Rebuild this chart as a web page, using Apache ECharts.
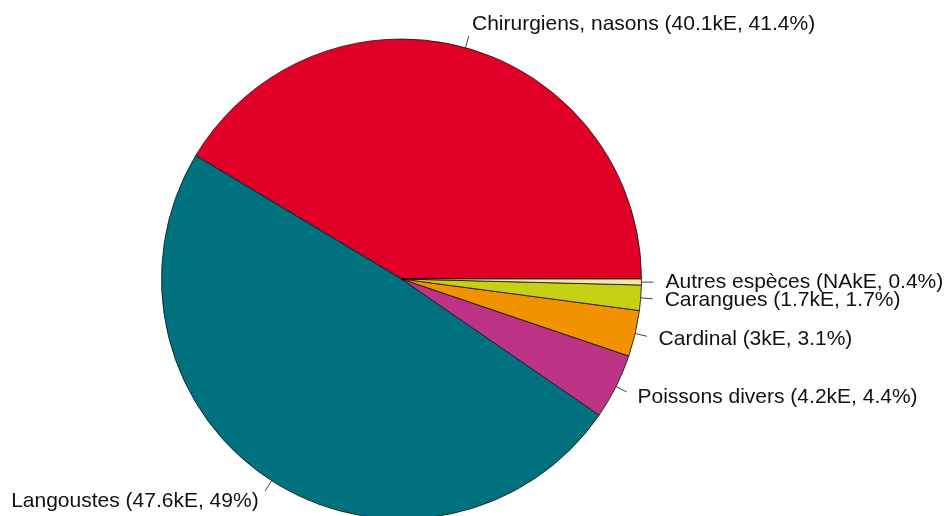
<!DOCTYPE html>
<html>
<head>
<meta charset="utf-8">
<script src="https://cdn.jsdelivr.net/npm/echarts@6/dist/echarts.min.js"></script>
<style>
  html, body { margin: 0; padding: 0; background: #fff; }
  #chart { width: 948px; height: 516px; }
</style>
</head>
<body>
<div id="chart"></div>
<script>
// données (ordre anti-horaire depuis 3h)
var categories = ['Chirurgiens, nasons', 'Langoustes', 'Poissons divers', 'Cardinal', 'Carangues', 'Autres espèces'];
var valeursKE = ['40.1', '47.6', '4.2', '3', '1.7', 'NA'];
var pourcents = [41.4, 49, 4.4, 3.1, 1.7, 0.4];
var couleurs = ['#E00027', '#00717E', '#BD3386', '#F29200', '#C6D115', '#EEE8AA'];

var cx = 401.5, cy = 279, r = 240;

var total = pourcents.reduce(function (a, b) { return a + b; }, 0);
var milieux = [];
var cumul = 0;
pourcents.forEach(function (p) {
  milieux.push((cumul + p / 2) / total * 2 * Math.PI);
  cumul += p;
});

var chart = echarts.init(document.getElementById('chart'));
chart.setOption({
  animation: false,
  series: [{
    type: 'pie',
    center: [cx, cy],
    radius: r,
    startAngle: 0,
    clockwise: false,
    avoidLabelOverlap: false,
    itemStyle: { borderColor: '#111', borderWidth: 0.8 },
    label: {
      show: true,
      position: 'outside',
      fontFamily: 'Liberation Sans, Arial, sans-serif',
      fontSize: 21,
      color: '#111',
      formatter: function (p) {
        return categories[p.dataIndex] + ' (' + valeursKE[p.dataIndex] + 'kE, ' + pourcents[p.dataIndex] + '%)';
      }
    },
    labelLine: { show: true, lineStyle: { color: '#444', width: 1 } },
    labelLayout: function (params) {
      var a = milieux[params.dataIndex];
      var dx = Math.cos(a), dy = -Math.sin(a);
      var p1 = [cx + r * dx, cy + r * dy];
      var p2 = [cx + 1.05 * r * dx, cy + 1.05 * r * dy];
      return {
        x: cx + 1.1 * r * dx,
        y: cy + 1.1 * r * dy,
        align: dx >= 0 ? 'left' : 'right',
        verticalAlign: 'middle',
        labelLinePoints: [p1, p2, p2]
      };
    },
    emphasis: { disabled: true },
    data: categories.map(function (c, i) {
      return { name: c, value: pourcents[i], itemStyle: { color: couleurs[i] } };
    })
  }]
});
</script>
</body>
</html>
